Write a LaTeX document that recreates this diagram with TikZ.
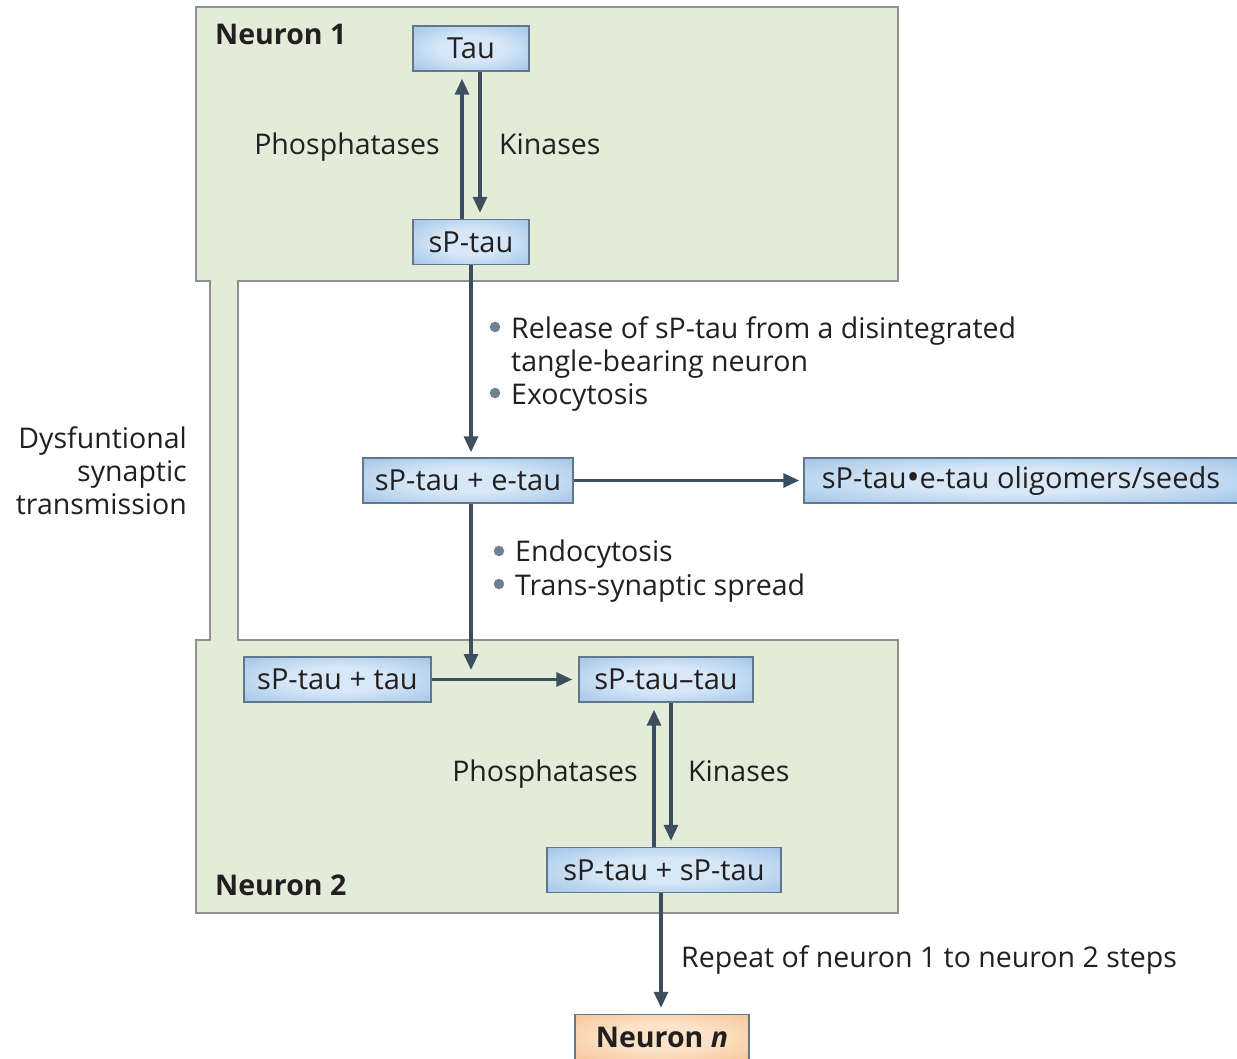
\documentclass[tikz,border=0pt]{standalone}
\usepackage{fontspec}
\setmainfont{Open Sans}
\usetikzlibrary{arrows.meta}
\definecolor{cellfill}{HTML}{E3ECD9}
\definecolor{cellline}{HTML}{8E9190}
\definecolor{boxin}{HTML}{D6E7F7}
\definecolor{boxout}{HTML}{80AFDE}
\definecolor{boxline}{HTML}{63778A}
\definecolor{orin}{HTML}{FCE3C8}
\definecolor{orout}{HTML}{F3B47C}
\definecolor{arrowc}{HTML}{3B4F5F}
\definecolor{bulletc}{HTML}{6E8294}
\definecolor{textc}{HTML}{231F20}
\pgfdeclareradialshading{bluebox}{\pgfpoint{0bp}{0bp}}{color(0bp)=(boxin); color(14bp)=(boxin); color(50bp)=(boxout); color(72bp)=(boxout)}
\pgfdeclareradialshading{orangebox}{\pgfpoint{0bp}{0bp}}{color(0bp)=(orin); color(14bp)=(orin); color(50bp)=(orout); color(72bp)=(orout)}
\tikzset{
  txt/.style={inner sep=0pt, text=textc, font=\fontsize{28.5}{33}\selectfont, text height=20pt, text depth=6pt},
  bx/.style={draw=boxline, line width=1.4pt, shade, shading=bluebox, inner sep=0pt, minimum height=45pt, text=textc, font=\fontsize{29}{30}\selectfont},
  obx/.style={bx, shading=orangebox, font=\bfseries\fontsize{28.5}{30}\selectfont},
  arr/.style={draw=arrowc, line width=3.2pt, -{Triangle[length=16pt,width=14pt]}},
  bul/.style={circle, fill=bulletc, inner sep=0pt, minimum size=10.5pt},
  cell/.style={fill=cellfill, draw=cellline, line width=1.5pt},
  lbl/.style={txt, font=\bfseries\fontsize{28.5}{30}\selectfont}
}
\begin{document}
\begin{tikzpicture}[x=1pt,y=-1pt]
\useasboundingbox (0,0) rectangle (1237,1059);
% neuron cells joined by synaptic strip
\path[cell] (196,7) -- (898,7) -- (898,281) -- (238,281) -- (238,640) -- (898,640)
  -- (898,913) -- (196,913) -- (196,640) -- (210,640) -- (210,281) -- (196,281) -- cycle;

\node[lbl, anchor=west] (n1) at (215,38) {Neuron 1};
\node[lbl, anchor=west] (n2) at (215,888) {Neuron 2};

\node[bx, minimum width=116pt] (tau) at (471,48.5) {Tau};
\node[bx, minimum width=116pt] (sp1) at (471,242) {sP-tau};
\node[bx, minimum width=210pt] (spe) at (468,480.5) {sP-tau + e-tau};
\node[bx, minimum width=434pt] (olig) at (1021,480.5) {sP-tau\raisebox{-0.12ex}{\scalebox{1.2}{\textbullet}}e-tau oligomers/seeds};
\node[bx, minimum width=187pt] (spt) at (337.5,679.5) {sP-tau + tau};
\node[bx, minimum width=174pt] (sptt) at (666,679.5) {sP-tau\textendash tau};
\node[bx, minimum width=234pt] (sp2) at (664,870) {sP-tau + sP-tau};
\node[obx, minimum width=174pt] (nn) at (662,1037) {Neuron \textit{n}};

% neuron 1 cycle
\draw[arr, shorten >=7pt] ([xshift=-9pt]sp1.north) -- ([xshift=-9pt]tau.south);
\draw[arr, shorten >=6pt] ([xshift=9pt]tau.south) -- ([xshift=9pt]sp1.north);
\node[txt] (ph1) at (347,148) {Phosphatases};
\node[txt, anchor=west] (ki1) at (499,148) {Kinases};

% release
\draw[arr, shorten >=5pt] (sp1.south) -- (sp1.south |- spe.north);
\node[bul] (b1) at (495,327) {};
\node[txt, anchor=north west, align=left, text height=, text depth=] (t1) at (511,316) {Release of sP-tau from a disintegrated\\tangle-bearing neuron};
\node[bul] (b2) at (495,393) {};
\node[txt, anchor=west] (t2) at (511,397) {Exocytosis};

\draw[arr, shorten >=4pt] (spe.east) -- (olig.west);

\node[txt, anchor=north east, align=right, text height=, text depth=] (dys) at (187,426) {Dysfuntional\\synaptic\\transmission};

% endocytosis
\coordinate (join) at (471,670);
\draw[arr] (spe.south -| join) -- (join);
\node[bul] (b3) at (499,551) {};
\node[txt, anchor=west] (t3) at (515,554) {Endocytosis};
\node[bul] (b4) at (499,584) {};
\node[txt, anchor=west] (t4) at (515,588) {Trans-synaptic spread};

\draw[arr, shorten >=6pt] (spt.east) -- (sptt.west);

% neuron 2 cycle
\draw[arr, shorten >=7pt] ([xshift=-10pt]sp2.north) -- ([xshift=-10pt]sp2.north |- sptt.south);
\draw[arr, shorten >=6pt] ([xshift=7pt]sp2.north |- sptt.south) -- ([xshift=7pt]sp2.north);
\node[txt] (ph2) at (545,774) {Phosphatases};
\node[txt, anchor=west] (ki2) at (688,774) {Kinases};

\draw[arr, shorten >=6pt] ([xshift=-3pt]sp2.south) -- ([xshift=-3pt]sp2.south |- nn.north);
\node[txt, anchor=west] (rep) at (681,960) {Repeat of neuron 1 to neuron 2 steps};
\end{tikzpicture}
\end{document}
